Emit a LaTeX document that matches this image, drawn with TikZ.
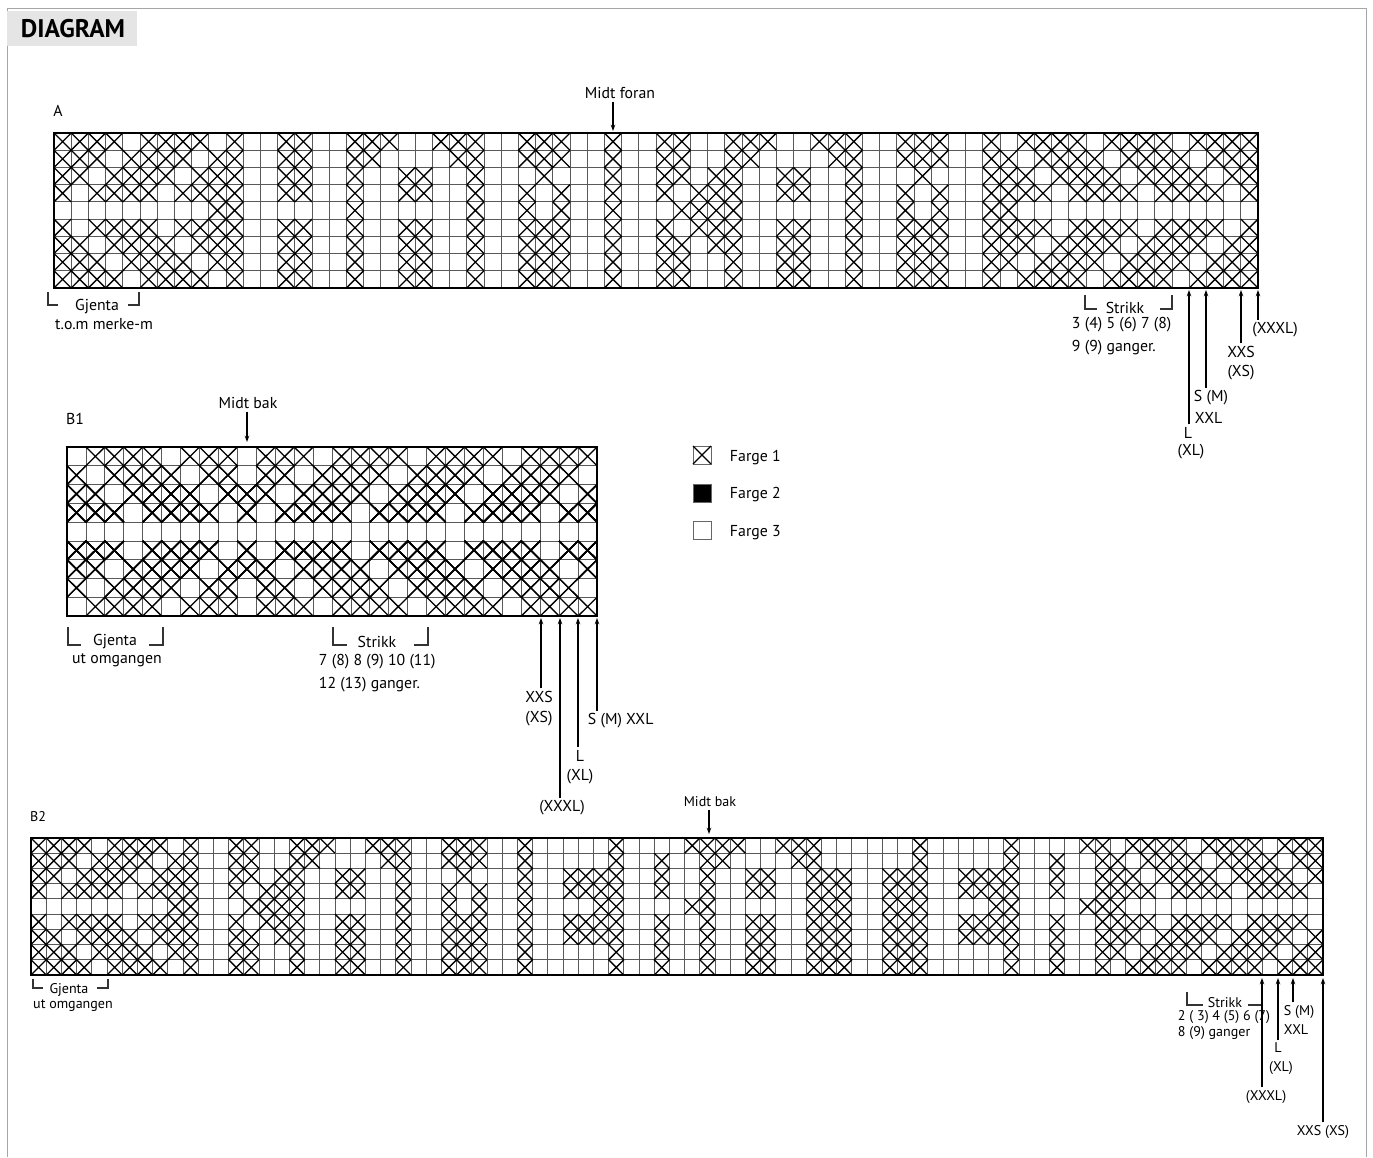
\documentclass[tikz,border=0pt]{standalone}
\usepackage{fontspec}
\setmainfont{PT Sans}
\usetikzlibrary{arrows.meta}

% one row of crosses: #1 row, #2 list of first/last columns
\newcommand\crossrow[2]{%
  \foreach \ca/\cb in {#2}{%
    \foreach \col in {\ca,...,\cb}{%
      \draw[cross] (\col*\cellw,#1*\cellh) -- ++(\cellw,\cellh) ++(-\cellw,0) -- ++(\cellw,-\cellh);
    }%
  }%
}
% empty chart: #1 columns, #2 rows
\newcommand\chartgrid[2]{%
  \foreach \i in {0,...,#1} \draw[gridline] (\i*\cellw,0) -- (\i*\cellw,#2*\cellh);
  \foreach \j in {0,...,#2} \draw[gridline] (0,\j*\cellh) -- (#1*\cellw,\j*\cellh);
}

\begin{document}
\begin{tikzpicture}[
    x=0.02cm, y=-0.02cm,
    >={Stealth[length=3.6pt,width=2.6pt]},
    gridline/.style={line width=0.45pt, black!65},
    cross/.style={line width=0.75pt, black},
    frame/.style={line width=1.6pt, black},
    bracket/.style={line width=0.6pt, black!80},
    pointer/.style={->, line width=0.6pt},
    lbl/.style={font=\fontsize{9}{10}\selectfont, inner sep=1.5pt},
    smalllbl/.style={font=\fontsize{8}{9}\selectfont, inner sep=1.5pt}
  ]
  \useasboundingbox (0,0) rectangle (1373,1157);
  \draw[black!35, line width=0.5pt] (7,1157) -- (7,8) -- (1366,8) -- (1366,1157);
  \fill[black!10] (7,11) rectangle (137,46);
  \node[font=\fontsize{14.5}{16}\selectfont\bfseries, inner sep=0pt] (title) at (73,29) {DIAGRAM};

  % chart A
  \node[lbl] (lblA) at (58,111) {A};
  \node[lbl] (midtA) at (620,93) {Midt foran};
  \coordinate (midtA-tip) at (613,131);
  \draw[pointer] (midtA-tip |- midtA.south) -- (midtA-tip);
  \begin{scope}[shift={(54,133)}]
    \def\cellw{17.2}\def\cellh{17.22}
    \chartgrid{70}{9}
    \crossrow{0}{0/3,5/8,10/10,13/14,17/19,22/24,27/29,32/32,35/36,39/41,44/46,49/51,54/54,56/59,61/64,66/69}
    \crossrow{1}{0/2,4/7,9/10,13/14,17/18,23/24,27/29,32/32,35/36,39/40,45/46,49/51,54/55,57/60,62/65,67/69}
    \crossrow{2}{0/1,3/6,8/10,13/14,17/17,20/21,24/24,28/28,32/32,35/36,38/39,42/43,46/46,50/50,54/56,58/61,63/66,68/69}
    \crossrow{3}{0/0,2/5,7/10,13/14,17/17,20/21,24/24,27/27,29/29,32/32,35/35,37/39,42/43,46/46,49/49,51/51,54/57,59/62,64/67,69/69}
    \crossrow{4}{9/10,17/17,24/24,27/27,29/29,32/32,36/39,46/46,49/49,51/51,54/55}
    \crossrow{5}{0/0,2/5,7/10,13/14,17/17,20/21,24/24,27/29,32/32,35/35,37/39,42/43,46/46,49/51,54/57,59/62,64/67,69/69}
    \crossrow{6}{0/1,3/6,8/10,13/14,17/17,20/21,24/24,27/29,32/32,35/36,38/39,42/43,46/46,49/51,54/56,58/61,63/66,68/69}
    \crossrow{7}{0/2,4/7,9/10,13/14,17/17,20/21,24/24,27/29,32/32,35/36,39/39,42/43,46/46,49/51,54/55,57/60,62/65,67/69}
    \crossrow{8}{0/3,5/8,10/10,13/14,17/17,20/21,24/24,27/29,32/32,35/36,39/39,42/43,46/46,49/51,54/54,56/59,61/64,66/69}
    \draw[frame] (0,0) rectangle (70*\cellw,9*\cellh);
  \end{scope}
  \draw[bracket] (48,292) |- (58,305);
  \draw[bracket] (128,305) -| (139,292);
  \node[lbl] (gjA) at (97,307) {Gjenta};
  \node[lbl] (tomA) at (104,324) {t.o.m merke-m};
  \draw[bracket] (1085,295) |- (1097,309);
  \draw[bracket] (1160,309) -| (1172,295);
  \node[lbl] (strA) at (1125,308) {Strikk};
  \node[lbl, anchor=west] (ganA1) at (1069,325) {3 (4) 5 (6) 7 (8)};
  \node[lbl, anchor=west] (ganA2) at (1069,348) {9 (9) ganger.};
  \coordinate (tA1) at (1189,290);
  \coordinate (tA2) at (1206,290);
  \coordinate (tA3) at (1241,290);
  \coordinate (tA4) at (1258,290);
  \node[lbl] (aL) at (1188,433) {L};
  \node[lbl] (aXL) at (1191,452) {(XL)};
  \node[lbl, anchor=west] (aSM) at (1191,398) {S (M)};
  \node[lbl, anchor=west] (aXXL) at (1192,418) {XXL};
  \node[lbl] (aXXS) at (1241,352) {XXS};
  \node[lbl] (aXS) at (1241,373) {(XS)};
  \node[lbl] (aXXXL) at (1275,330) {(XXXL)};
  \draw[pointer] (tA1 |- aL.north) -- (tA1);
  \draw[pointer] (tA2 |- aSM.north) -- (tA2);
  \draw[pointer] (tA3 |- aXXS.north) -- (tA3);
  \draw[pointer] (tA4 |- aXXXL.north) -- (tA4);

  % chart B1
  \node[lbl] (lblB1) at (75,419) {B1};
  \node[lbl] (midtB1) at (248,403) {Midt bak};
  \coordinate (midtB1-tip) at (247,442);
  \draw[pointer] (midtB1-tip |- midtB1.south) -- (midtB1-tip);
  \begin{scope}[shift={(67,447)}]
    \def\cellw{18.93}\def\cellh{18.78}
    \chartgrid{28}{9}
    \foreach \r in {0,8} \crossrow{\r}{1/4,6/8,10/12,14/17,19/22,24/27}
    \foreach \r in {1,7} \crossrow{\r}{0/0,2/5,7/8,10/11,13/16,18/21,23/26}
    \foreach \r in {2,6} \crossrow{\r}{0/1,3/6,8/10,12/15,17/20,22/25,27/27}
    \foreach \r in {3,5} \crossrow{\r}{0/2,4/7,9/9,11/14,16/19,21/24,26/27}
    \draw[frame] (0,0) rectangle (28*\cellw,9*\cellh);
  \end{scope}
  \draw[bracket] (68,627) |- (81,645);
  \draw[bracket] (149,645) -| (163,627);
  \node[lbl] (gjB1) at (115,642) {Gjenta};
  \node[lbl] (utB1) at (117,660) {ut omgangen};
  \draw[bracket] (333,627) |- (347,645);
  \draw[bracket] (414,645) -| (428,627);
  \node[lbl] (strB1) at (377,642) {Strikk};
  \node[lbl, anchor=west] (ganB1a) at (316,662) {7 (8) 8 (9) 10 (11)};
  \node[lbl, anchor=west] (ganB1b) at (316,685) {12 (13) ganger.};
  \coordinate (tB1) at (541,618);
  \coordinate (tB2) at (560,618);
  \coordinate (tB3) at (578,618);
  \coordinate (tB4) at (597,618);
  \node[lbl] (bXXS) at (539,697) {XXS};
  \node[lbl] (bXS) at (539,719) {(XS)};
  \node[lbl, anchor=west] (bSM) at (585,721) {S (M) XXL};
  \node[lbl] (bL) at (580,756) {L};
  \node[lbl] (bXL) at (580,777) {(XL)};
  \node[lbl] (bXXXL) at (562,808) {(XXXL)};
  \draw[pointer] (tB1 |- bXXS.north) -- (tB1);
  \draw[pointer] (tB2 |- bXXXL.north) -- (tB2);
  \draw[pointer] (tB3 |- bL.north) -- (tB3);
  \draw[pointer] (tB4 |- bSM.north) -- (tB4);

  % legend
  \draw[line width=0.5pt, black!60] (693,446) rectangle (711,464);
  \draw[cross] (693,446) -- (711,464) (693,464) -- (711,446);
  \filldraw[fill=black, draw=black!60, line width=0.5pt] (693,484) rectangle (711,502);
  \draw[line width=0.5pt, black!60] (693,521) rectangle (711,539);
  \node[lbl, anchor=west] (farge1) at (727,458) {Farge 1};
  \node[lbl, anchor=west] (farge2) at (727,495) {Farge 2};
  \node[lbl, anchor=west] (farge3) at (727,533) {Farge 3};

  % chart B2
  \node[smalllbl] (lblB2) at (38,817) {B2};
  \node[smalllbl] (midtB2) at (710,802) {Midt bak};
  \coordinate (midtB2-tip) at (709,834);
  \draw[pointer] (midtB2-tip |- midtB2.south) -- (midtB2-tip);
  \begin{scope}[shift={(31,838)}]
    \def\cellw{15.2}\def\cellh{15.22}
    \chartgrid{85}{9}
    \crossrow{0}{0/3,5/8,10/10,13/14,17/19,22/24,27/29,32/32,38/38,43/46,49/51,58/58,64/64,69/70,72/75,77/80,82/84}
    \crossrow{1}{0/2,4/7,9/10,13/14,17/18,23/24,27/29,32/32,38/38,41/41,44/45,50/51,58/58,64/64,67/67,70/71,73/76,78/81,83/84}
    \crossrow{2}{0/1,3/6,8/10,13/14,16/17,20/21,24/24,28/28,32/32,35/38,41/41,44/44,47/48,51/53,56/58,61/64,67/67,70/72,74/77,79/82,84/84}
    \crossrow{3}{0/0,2/5,7/10,13/13,15/17,20/21,24/24,27/27,29/29,32/32,35/38,41/41,44/44,47/48,51/53,56/58,61/64,67/67,70/73,75/78,80/83}
    \crossrow{4}{9/10,14/17,24/24,27/27,29/29,32/32,37/38,43/44,51/53,56/58,63/64,69/71}
    \crossrow{5}{0/0,2/5,7/10,13/13,15/17,20/21,24/24,27/29,32/32,35/38,41/41,44/44,47/48,51/53,56/58,61/64,67/67,70/73,75/78,80/83}
    \crossrow{6}{0/1,3/6,8/10,13/14,16/17,20/21,24/24,27/29,32/32,35/38,41/41,44/44,47/48,51/53,56/58,61/64,67/67,70/72,74/77,79/82,84/84}
    \crossrow{7}{0/2,4/7,9/10,13/14,17/17,20/21,24/24,27/29,32/32,38/38,41/41,44/44,47/48,51/53,56/58,64/64,67/67,70/71,73/76,78/81,83/84}
    \crossrow{8}{0/3,5/8,10/10,13/14,17/17,20/21,24/24,27/29,32/32,38/38,41/41,44/44,47/48,51/53,56/58,64/64,67/67,70/70,72/75,77/80,82/84}
    \draw[frame] (0,0) rectangle (85*\cellw,9*\cellh);
  \end{scope}
  \draw[bracket] (33,979) |- (43,988);
  \draw[bracket] (97,988) -| (108,979);
  \node[smalllbl] (gjB2) at (69,990) {Gjenta};
  \node[smalllbl] (utB2) at (73,1006) {ut omgangen};
  \draw[bracket] (1187,992) |- (1203,1005);
  \coordinate (tC1) at (1262,978);
  \coordinate (tC2) at (1278,978);
  \coordinate (tC3) at (1293,978);
  \coordinate (tC4) at (1323,978);
  \draw[bracket] (1248,1005) -- (tC1 |- 0,1005);
  \node[smalllbl] (strB2) at (1225,1003) {Strikk};
  \node[smalllbl, anchor=west] (ganB2a) at (1175,1017) {2 ( 3) 4 (5) 6 (7)};
  \node[smalllbl, anchor=west] (ganB2b) at (1175,1033) {8 (9) ganger};
  \node[smalllbl, anchor=west] (cSM) at (1281,1012) {S (M)};
  \node[smalllbl, anchor=west] (cXXL) at (1281,1030) {XXL};
  \node[smalllbl] (cL) at (1278,1048) {L};
  \node[smalllbl] (cXL) at (1281,1068) {(XL)};
  \node[smalllbl] (cXXXL) at (1266,1097) {(XXXL)};
  \node[smalllbl] (cXXS) at (1323,1132) {XXS (XS)};
  \draw[pointer] (tC1 |- cXXXL.north) -- (tC1);
  \draw[pointer] (tC2 |- cL.north) -- (tC2);
  \draw[pointer] (tC3 |- cSM.north) -- (tC3);
  \draw[pointer] (tC4 |- cXXS.north) -- (tC4);
\end{tikzpicture}
\end{document}
